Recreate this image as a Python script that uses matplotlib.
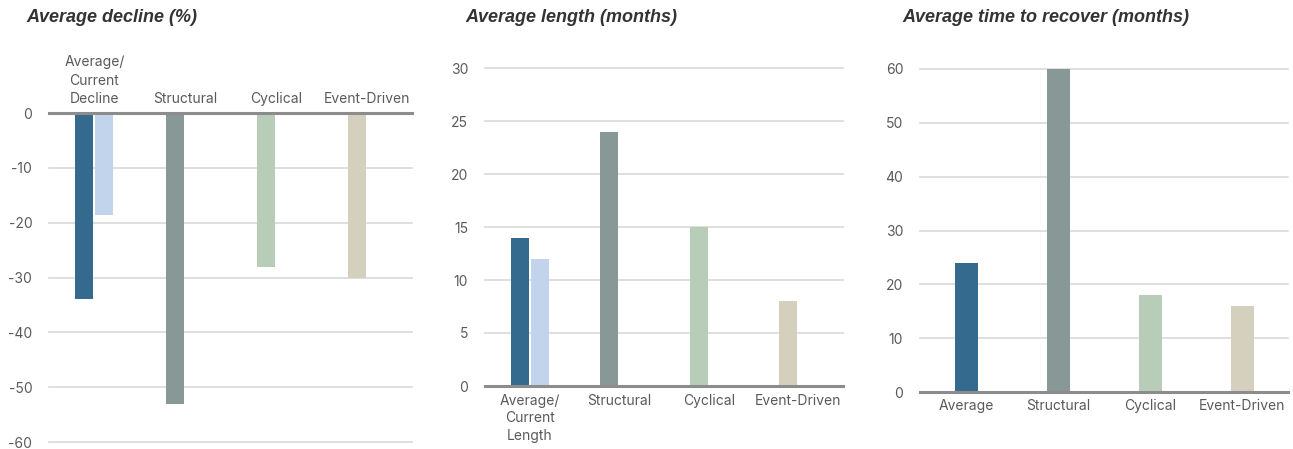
import matplotlib
matplotlib.use("Agg")
import matplotlib.pyplot as plt
import numpy as np

plt.rcParams['font.family'] = ['Inter', 'DejaVu Sans']

# Data
decline_labels = ["Average/\nCurrent\nDecline", "Structural", "Cyclical", "Event-Driven"]
decline_average = [-34, -53, -28, -30]
decline_current = [-18.6]

length_labels = ["Average/\nCurrent\nLength", "Structural", "Cyclical", "Event-Driven"]
length_average = [14, 24, 15, 8]
length_current = [12]

recover_labels = ["Average", "Structural", "Cyclical", "Event-Driven"]
recover_average = [24, 60, 18, 16]

category_colors = ["#346A8E", "#879896", "#B8CDB8", "#D5CFBE"]
current_color = "#C2D4EB"

grid_color = "#D9D9D9"
zero_color = "#8C8C8C"
tick_color = "#5A5A5A"
title_color = "#333333"
title_font = ['Liberation Sans', 'DejaVu Sans']

W, H = 1293, 449
fig = plt.figure(figsize=(W / 100, H / 100), dpi=100)


def px_axes(left, top, right, bottom):
    return fig.add_axes([left / W, 1 - bottom / H, (right - left) / W, (bottom - top) / H])


def style(ax, ylim, ticks):
    ax.set_xlim(-0.5, 3.5)
    ax.set_ylim(*ylim)
    ax.set_yticks(ticks)
    ax.set_yticklabels([f"{t:g}" for t in ticks])
    for s in ax.spines.values():
        s.set_visible(False)
    ax.tick_params(axis='both', length=0, labelsize=10, labelcolor=tick_color)
    ax.tick_params(axis='y', pad=12)
    for t in ticks:
        if t != 0:
            ax.axhline(t, color=grid_color, lw=1.2, zorder=0, clip_on=False)
    ax.axhline(0, color=zero_color, lw=2.2, zorder=3, clip_on=False)


def title(xpx, text):
    fig.text(xpx / W, 1 - 18 / H, text, fontsize=13, fontweight='bold',
             fontstyle='italic', color=title_color, va='center', ha='left',
             family=title_font)


x = np.arange(4)
off = 0.11
bw = 0.2

# Panel 1: average decline
ax1 = px_axes(49, 113, 412, 442)
ax1.bar(x - off, decline_average, width=bw, color=category_colors, zorder=2)
ax1.bar(x[:1] + off, decline_current, width=bw, color=current_color, zorder=2)
style(ax1, (-60, 0), [0, -10, -20, -30, -40, -50, -60])
ax1.xaxis.tick_top()
ax1.set_xticks(x)
ax1.set_xticklabels(decline_labels, linespacing=1.4)
ax1.tick_params(axis='x', pad=5)
title(26, "Average decline (%)")

# Panel 2: average length
ax2 = px_axes(485, 68, 843, 386)
ax2.bar(x - off, length_average, width=bw, color=category_colors, zorder=2)
ax2.bar(x[:1] + off, length_current, width=bw, color=current_color, zorder=2)
style(ax2, (0, 30), [0, 5, 10, 15, 20, 25, 30])
ax2.set_xticks(x)
ax2.set_xticklabels(length_labels, linespacing=1.35)
ax2.tick_params(axis='x', pad=5.5)
title(465, "Average length (months)")

# Panel 3: average time to recover
ax3 = px_axes(920, 69, 1288, 392)
ax3.bar(x, recover_average, width=0.25, color=category_colors, zorder=2)
style(ax3, (0, 60), [0, 10, 20, 30, 40, 50, 60])
ax3.set_xticks(x)
ax3.set_xticklabels(recover_labels)
ax3.tick_params(axis='x', pad=5)
title(902, "Average time to recover (months)")

fig.savefig("out.png", dpi=100)
